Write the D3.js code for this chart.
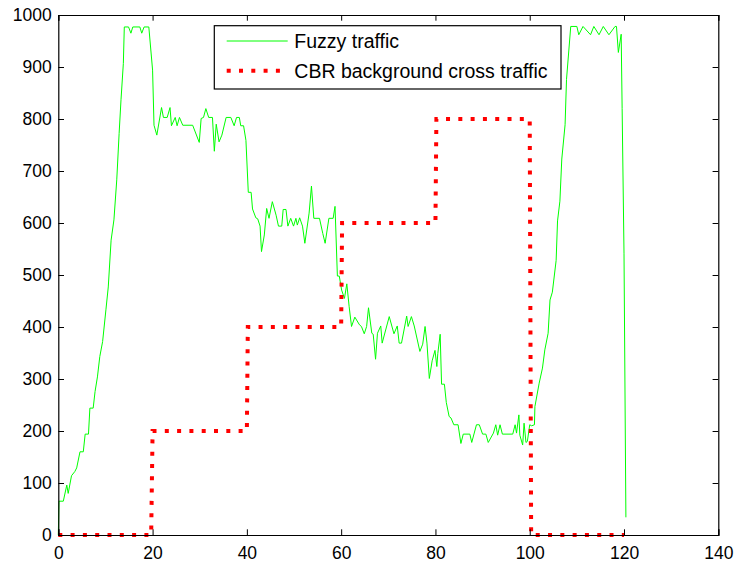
<!DOCTYPE html>
<html><head><meta charset="utf-8">
<script src="https://cdn.jsdelivr.net/npm/d3@7"></script>
<style>
html,body{margin:0;padding:0;background:#fff;}
svg{display:block;font-family:"Liberation Sans",Arial,sans-serif;}
</style></head>
<body>
<svg id="chart" width="738" height="567"></svg>
<script>
// ---- data ----
const fuzzyX = [0,0.15,1.06,1.8,2.1,2.8,3.5,3.9,4.6,5.3,5.7,6.4,6.7,7.4,7.8,8.3,8.8,9.4,10.1,10.6,11.2,11.8,12.4,12.9,13.3,13.8,14.0,14.9,15.4,15.8,17.3,17.7,18.2,19.2,
20.0,20.3,20.9,21.9,22.3,23.1,23.7,24.0,24.8,25.2,25.7,26.4,28.5,29.9,30.3,30.8,31.3,31.9,32.7,33.1,33.5,34.1,34.7,35.6,36.6,37.3,37.8,38.4,38.7,39.3,39.8,
40.3,40.9,41.2,41.9,42.3,42.8,43.1,43.7,44.2,44.7,45.4,46.2,46.7,47.4,47.7,48.3,48.7,49.3,49.9,50.4,50.7,51.2,51.8,52.3,53.2,53.7,54.2,55.4,56.1,56.6,57.4,58.3,58.7,59.2,59.6,
60.1,60.7,61.2,61.7,62.2,62.9,63.9,64.3,64.9,65.4,65.8,66.5,66.8,67.3,67.7,68.4,68.7,70.2,71.2,71.9,72.3,72.8,73.9,74.2,74.9,75.5,76.7,77.3,77.8,78.2,78.7,79.3,79.9,80.3,80.5,
81.0,81.3,81.9,82.3,82.9,83.3,83.9,84.8,85.4,85.9,87.3,87.7,88.7,89.3,90.0,90.7,91.2,92.3,92.8,93.2,93.7,94.2,96.4,96.9,97.2,97.7,97.9,98.5,98.8,99.2,99.5,
100.0,100.4,101.0,101.1,102.0,102.7,103.2,103.9,104.3,104.8,105.6,105.9,106.4,106.8,107.5,107.8,108.7,110.0,110.4,111.3,112.9,113.6,114.7,115.6,116.8,118.1,118.4,118.8,119.4,119.6,120.0,120.4];
const fuzzyY = [0,65,65,96,80,114,122,129,160,160,194,194,244,244,276,304,343,372,433,477,567,606,683,772,837,907,977,977,965,977,977,965,977,977,
894,788,769,822,803,803,822,787,803,787,803,788,788,755,801,803,820,803,803,738,790,756,769,803,803,787,803,803,787,787,759,
659,659,627,610,608,594,545,577,628,609,641,615,594,594,626,626,594,609,594,609,596,610,594,561,619,671,609,609,580,561,609,609,632,498,498,
471,455,483,439,401,419,404,401,387,401,437,388,386,338,388,402,369,420,387,402,369,369,421,401,420,402,353,367,401,369,301,335,355,324,349,
386,290,290,255,228,225,212,212,176,194,194,178,212,212,194,194,178,196,212,192,212,194,194,212,196,231,192,173,215,178,180,
212,210,212,247,292,321,356,388,452,467,528,604,642,723,789,876,978,978,962,978,962,978,962,978,962,978,978,928,963,820,542,34];
const cbrX = [0,19.7,20,40,40.2,60,60.2,80,80.2,100,100.3,120];
const cbrY = [0,0,200,200,400,400,600,600,800,800,0,0];
const xTicks = [0,20,40,60,80,100,120,140];
const yTicks = [0,100,200,300,400,500,600,700,800,900,1000];
const seriesNames = ["Fuzzy traffic","CBR background cross traffic"];

// ---- layout ----
const svg = d3.select("#chart");
const L = 58.3, R = 718.3, T = 15, B = 535;
const x = d3.scaleLinear().domain([0,140]).range([L,R]);
const y = d3.scaleLinear().domain([0,1000]).range([B,T]);

svg.append("rect").attr("width",738).attr("height",567).attr("fill","#fff");

const line = d3.line().x(d=>x(d[0])).y(d=>y(d[1]));
const fuzzy = fuzzyX.map((v,i)=>[v,fuzzyY[i]]);
const cbr = cbrX.map((v,i)=>[v,cbrY[i]]);

const clip = svg.append("clipPath").attr("id","clip").append("rect")
  .attr("x",L).attr("y",T-2).attr("width",R-L).attr("height",B-T+4);

const plot = svg.append("g");
plot.append("path").datum(fuzzy).attr("d",line)
  .attr("fill","none").attr("stroke","#00ff00").attr("stroke-width",1).attr("stroke-linejoin","miter");
plot.append("path").datum(cbr).attr("d",line)
  .attr("fill","none").attr("stroke","#ff0000").attr("stroke-width",4).attr("stroke-dasharray","4,8.3");

// axes (box with inward ticks)
const fs = 17.5;
const axB = svg.append("g").attr("transform",`translate(0,${B})`).call(d3.axisBottom(x).tickValues(xTicks).tickSize(-5.7).tickPadding(12).tickFormat(d3.format("d")));
const axT = svg.append("g").attr("transform",`translate(0,${T})`).call(d3.axisTop(x).tickValues(xTicks).tickSize(-5.7).tickFormat(""));
const axL = svg.append("g").attr("transform",`translate(${L},0)`).call(d3.axisLeft(y).tickValues(yTicks).tickSize(-5.7).tickPadding(6.5).tickFormat(d3.format("d")));
const axR = svg.append("g").attr("transform",`translate(${R},0)`).call(d3.axisRight(y).tickValues(yTicks).tickSize(-5.7).tickFormat(""));
[axB,axT,axL,axR].forEach(g=>{
  g.select(".domain").attr("stroke","#000").attr("stroke-width",1.2);
  g.selectAll(".tick line").attr("stroke","#000").attr("stroke-width",1);
  g.selectAll("text").attr("fill","#000").style("font-size",fs+"px").style("font-family","'Liberation Sans',Arial,sans-serif");
});
axB.selectAll(".tick text").attr("dy","0.72em");
axB.selectAll(".tick text").attr("y",11.5);

// legend
const lg = svg.append("g");
lg.append("rect").attr("x",214.3).attr("y",25.7).attr("width",346.7).attr("height",63.3)
  .attr("fill","#fff").attr("stroke","#000").attr("stroke-width",1.2);
lg.append("line").attr("x1",226.7).attr("x2",287.7).attr("y1",41).attr("y2",41)
  .attr("stroke","#00ff00").attr("stroke-width",1);
lg.append("line").attr("x1",226.7).attr("x2",288).attr("y1",70.7).attr("y2",70.7)
  .attr("stroke","#ff0000").attr("stroke-width",4).attr("stroke-dasharray","4,8.3");
lg.selectAll("text.lbl").data(seriesNames).enter().append("text")
  .attr("x",294.3).attr("y",(d,i)=>i===0?48.3:78.3)
  .style("font-size","19.5px").attr("fill","#000").text(d=>d);
</script>
</body></html>
